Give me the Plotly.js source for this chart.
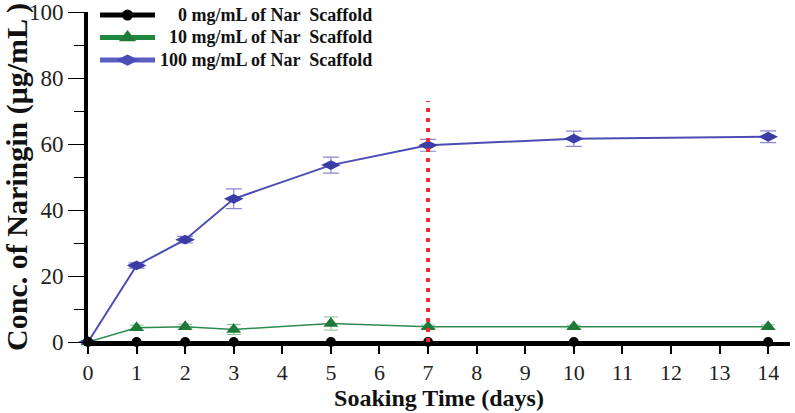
<!DOCTYPE html>
<html>
<head>
<meta charset="utf-8">
<script src="https://cdn.plot.ly/plotly-3.0.1.min.js"></script>
<style>html,body{margin:0;padding:0;background:#fff;}#chart{width:795px;height:413px;}</style>
</head>
<body>
<div id="chart"></div>
<script>
const days = [0, 1, 2, 3, 5, 7, 10, 14];
const conc0 = [0, 0, 0, 0, 0, 0, 0, 0];
const conc10 = [0, 4.3, 4.6, 3.8, 5.6, 4.6, 4.6, 4.6];
const err10 = [0, 0.8, 0.8, 1.5, 2.0, 0.5, 0.5, 0.6];
const conc100 = [0, 23.2, 31.0, 43.4, 53.6, 59.6, 61.6, 62.2];
const err100 = [0, 0.8, 1.0, 3.0, 2.4, 1.8, 2.3, 1.8];
const seriesNames = ['0 mg/mL of Nar  Scaffold', '10 mg/mL of Nar  Scaffold', '100 mg/mL of Nar  Scaffold'];
const markLine = [7, -3, 73];
const xTicks = [0,1,2,3,4,5,6,7,8,9,10,11,12,13,14];

const serif = "'Liberation Serif', 'Times New Roman', Times, serif";
const NB = '\u00a0';
const big = s => '<span style="font-size:18px">' + s + '</span>';
const traces = [
  {
    x: days, y: conc10, type: 'scatter', mode: 'lines+markers', showlegend: false,
    line: {color: '#2e8b4e', width: 1.5},
    marker: {symbol: 'triangle-up', size: 13, color: '#1f7a3a'},
    error_y: {type: 'data', array: err10, visible: true, color: '#7fbf8f', thickness: 1, width: 7},
    cliponaxis: false
  },
  {
    x: days, y: conc100, type: 'scatter', mode: 'lines+markers', showlegend: false,
    line: {color: '#4c4cb4', width: 2},
    marker: {symbol: 'diamond-wide', size: 14, color: '#3c3ca6'},
    error_y: {type: 'data', array: err100, visible: true, color: '#8a86d0', thickness: 1.2, width: 8},
    cliponaxis: false
  },
  {
    x: days, y: conc0, type: 'scatter', mode: 'lines+markers', showlegend: false,
    line: {color: '#000', width: 2},
    marker: {symbol: 'circle', size: 10, color: '#000'},
    cliponaxis: false
  },
  // legend-only entries (no data) so legend samples can be drawn thicker
  {
    x: [null], y: [null], type: 'scatter', mode: 'lines+markers', legendrank: 1,
    name: big(NB + NB + NB + NB + seriesNames[0]),
    line: {color: '#000', width: 5}, marker: {symbol: 'circle', size: 11, color: '#000'}
  },
  {
    x: [null], y: [null], type: 'scatter', mode: 'lines+markers', legendrank: 2,
    name: big(NB + NB + seriesNames[1]),
    line: {color: '#1f8a3f', width: 5}, marker: {symbol: 'triangle-up', size: 15, color: '#1f7a3a'}
  },
  {
    x: [null], y: [null], type: 'scatter', mode: 'lines+markers', legendrank: 3,
    name: big(seriesNames[2]),
    line: {color: '#5a5ec0', width: 5}, marker: {symbol: 'diamond-wide', size: 17, color: '#4a4eb4'}
  }
];

const layout = {
  width: 795, height: 413,
  margin: {l: 88, r: 5, t: 12, b: 71, autoexpand: false},
  paper_bgcolor: '#fff', plot_bgcolor: '#fff',
  font: {family: serif, color: '#222'},
  showlegend: true,
  legend: {
    x: 0.01, y: 1.04, xanchor: 'left', yanchor: 'top',
    font: {family: serif, size: 15, color: '#111', weight: 'bold'},
    traceorder: 'normal',
    itemwidth: 55, tracegroupgap: 0,
    bgcolor: 'rgba(0,0,0,0)'
  },
  xaxis: {
    range: [0, 14.45], tickvals: xTicks, ticktext: xTicks.map(String),
    showgrid: false, zeroline: false, automargin: false,
    showline: true, linecolor: '#000', linewidth: 4,
    ticks: 'outside', ticklen: 8, tickwidth: 2, tickcolor: '#000',
    tickfont: {family: serif, size: 22, color: '#222'},
    title: {text: 'Soaking Time (days)', font: {family: serif, size: 24, color: '#111', weight: 'bold'}, standoff: 0}
  },
  yaxis: {
    range: [0, 100], tickvals: [0, 20, 40, 60, 80, 100],
    minor: {tickvals: [10, 30, 50, 70, 90], ticks: 'outside', ticklen: 10, tickwidth: 1, tickcolor: '#000'},
    showgrid: false, zeroline: false, automargin: false,
    showline: true, linecolor: '#000', linewidth: 4,
    ticks: 'outside', ticklen: 16, tickwidth: 1, tickcolor: '#000',
    tickfont: {family: serif, size: 23, color: '#222'},
    title: {text: 'Conc. of Naringin (\u03bcg/mL )', font: {family: serif, size: 30, color: '#111', weight: 'bold'}, standoff: 0}
  },
  shapes: [{
    type: 'line', xref: 'x', yref: 'y',
    x0: markLine[0], x1: markLine[0], y0: markLine[1], y1: markLine[2],
    line: {color: '#ee2a2a', width: 4, dash: '4px,6px'}
  }]
};

Plotly.newPlot('chart', traces, layout, {staticPlot: true, displayModeBar: false});
</script>
</body>
</html>
